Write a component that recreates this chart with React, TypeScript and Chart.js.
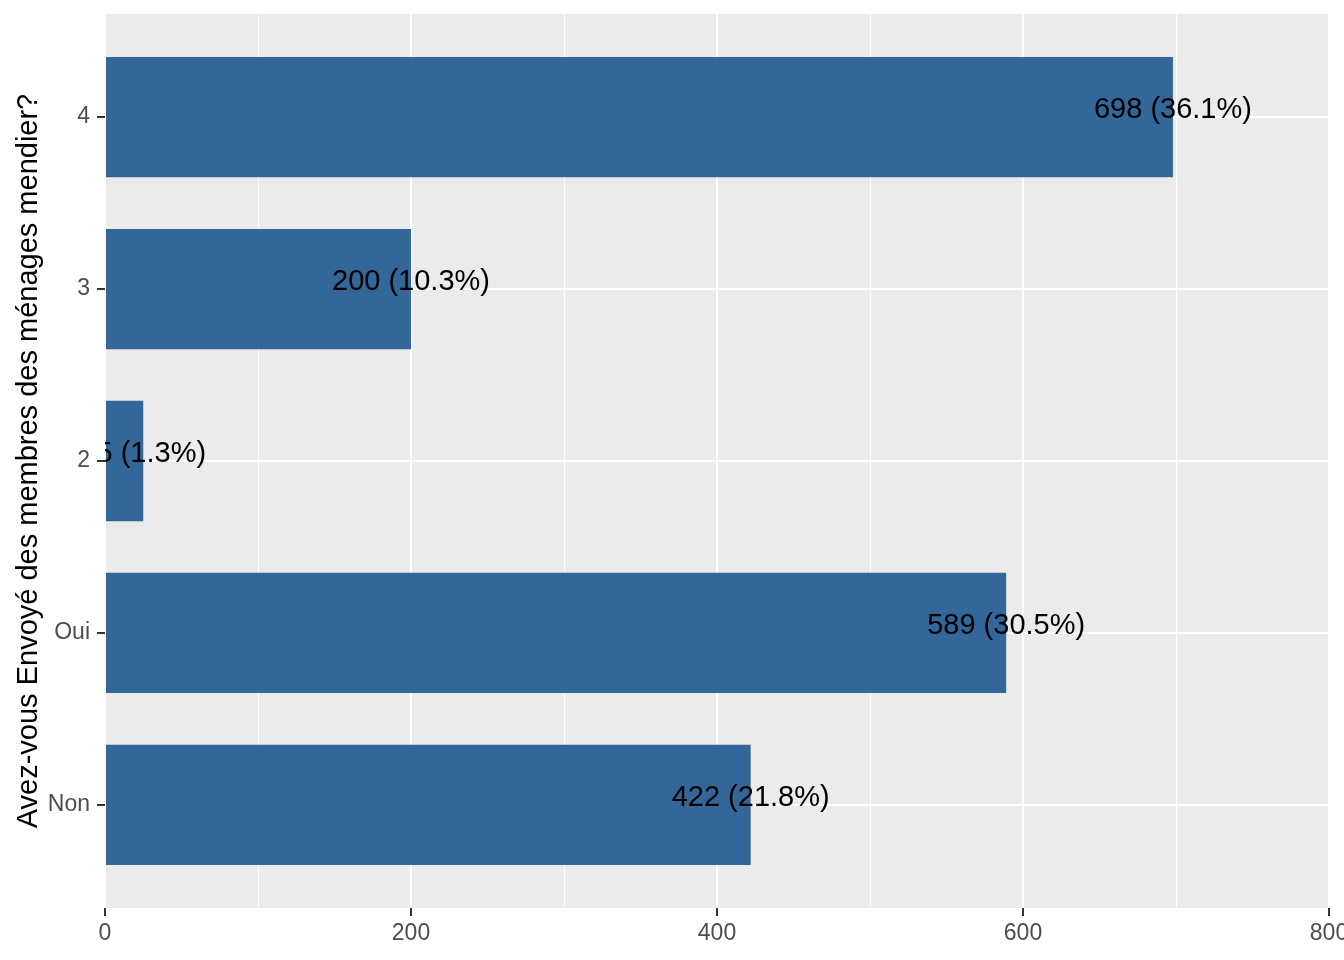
import React, { useEffect, useRef } from "react";
import { Chart, registerables } from "chart.js";

Chart.register(...registerables);

const categories = ["Non", "Oui", "2", "3", "4"];
const counts = [422, 589, 25, 200, 698];
const percentLabels = ["21.8%", "30.5%", "1.3%", "10.3%", "36.1%"];
const xTickValues = [0, 200, 400, 600, 800];

const FONT = "'Liberation Sans', Arial, sans-serif";
const TITLE = "Avez-vous Envoyé des membres des ménages mendier?";

export default function App() {
  const ref = useRef<HTMLCanvasElement | null>(null);

  useEffect(() => {
    const canvas = ref.current;
    if (!canvas) return;

    const panelBg = {
      id: "panelBg",
      beforeDraw(chart: any) {
        const { ctx, chartArea: a } = chart;
        ctx.save();
        ctx.fillStyle = "#EBEBEB";
        ctx.fillRect(a.left, a.top, a.right - a.left, a.bottom - a.top);
        ctx.restore();
      },
    };

    const yTitle = {
      id: "yTitle",
      afterDraw(chart: any) {
        const { ctx, chartArea: a } = chart;
        ctx.save();
        ctx.translate(37, (a.top + a.bottom) / 2);
        ctx.rotate(-Math.PI / 2);
        ctx.font = `29px ${FONT}`;
        ctx.fillStyle = "#000000";
        ctx.textAlign = "center";
        ctx.textBaseline = "alphabetic";
        ctx.fillText(TITLE, 0, 0);
        ctx.restore();
      },
    };

    const barLabels = {
      id: "barLabels",
      afterDatasetsDraw(chart: any) {
        const { ctx, chartArea: a } = chart;
        const meta = chart.getDatasetMeta(0);
        const xs = chart.scales.x;
        ctx.save();
        ctx.beginPath();
        ctx.rect(a.left, a.top, a.right - a.left, a.bottom - a.top);
        ctx.clip();
        ctx.font = `29px ${FONT}`;
        ctx.fillStyle = "#000000";
        ctx.textAlign = "center";
        ctx.textBaseline = "alphabetic";
        meta.data.forEach((bar: any, i: number) => {
          const x = xs.getPixelForValue(counts[i]);
          ctx.fillText(`${counts[i]} (${percentLabels[i]})`, x, bar.y + 1);
        });
        ctx.restore();
      },
    };

    const chart = new Chart(canvas, {
      type: "bar",
      data: {
        datasets: [
          {
            data: counts.map((v, i) => ({ x: v, y: i })),
            backgroundColor: "#336699",
            borderWidth: 0,
            barPercentage: 0.7,
            categoryPercentage: 1,
          },
        ],
      },
      options: {
        indexAxis: "y",
        responsive: false,
        animation: false,
        devicePixelRatio: 1,
        layout: { padding: { top: 14, right: 51, left: 0, bottom: 0 } },
        plugins: {
          legend: { display: false },
          tooltip: { enabled: false },
          title: { display: false },
        },
        scales: {
          x: {
            type: "linear",
            min: 0,
            max: 800,
            offset: false,
            border: { display: false },
            afterFit(scale: any) {
              scale.height = 52;
              scale.paddingLeft = 0;
              scale.paddingRight = 0;
            },
            ticks: {
              stepSize: 100,
              autoSkip: false,
              maxRotation: 0,
              padding: 4,
              color: "#4D4D4D",
              font: { family: FONT, size: 23 },
              callback: (v: any) => (xTickValues.includes(Number(v)) ? String(v) : ""),
            },
            grid: {
              offset: false,
              color: "#FFFFFF",
              lineWidth: (c: any) => (c.tick && c.tick.value % 200 === 0 ? 2 : 1),
              tickLength: 8,
              tickColor: (c: any) =>
                c.tick && c.tick.value % 200 === 0 ? "#333333" : "rgba(0,0,0,0)",
              tickWidth: 2,
            },
          },
          y: {
            type: "linear",
            min: -0.6,
            max: 4.6,
            offset: false,
            border: { display: false },
            afterFit(scale: any) {
              scale.width = 105;
              scale.paddingTop = 0;
              scale.paddingBottom = 0;
            },
            afterBuildTicks(scale: any) {
              scale.ticks = categories.map((_, i) => ({ value: i }));
            },
            ticks: {
              autoSkip: false,
              padding: 7,
              color: "#4D4D4D",
              font: { family: FONT, size: 23 },
              callback: (v: any) => categories[Number(v)] ?? "",
            },
            grid: {
              offset: false,
              color: "#FFFFFF",
              lineWidth: 2,
              tickLength: 8,
              tickColor: "#333333",
              tickWidth: 2,
            },
          },
        },
      },
      plugins: [panelBg, barLabels, yTitle],
    } as any);

    return () => chart.destroy();
  }, []);

  return (
    <div
      style={{
        position: "fixed",
        left: 0,
        top: 0,
        width: 1344,
        height: 960,
        overflow: "hidden",
        background: "#FFFFFF",
      }}
    >
      <canvas
        ref={ref}
        width={1380}
        height={960}
        style={{ display: "block", width: 1380, height: 960 }}
      />
    </div>
  );
}
